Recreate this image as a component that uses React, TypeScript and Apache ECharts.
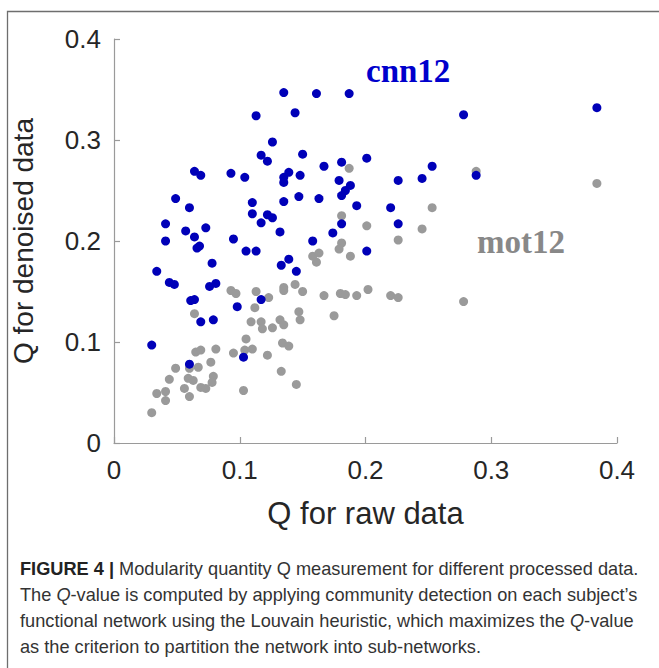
import React, { useEffect, useRef } from "react";
import * as echarts from "echarts";

// cnn12 (blue): Q for raw data / Q for denoised data
const cnnRaw = [
  0.135, 0.161, 0.187, 0.144, 0.113, 0.278, 0.384, 0.126, 0.117, 0.122,
  0.150, 0.064, 0.069, 0.093, 0.104, 0.139, 0.135, 0.135, 0.148, 0.167,
  0.181, 0.201, 0.179, 0.226, 0.245, 0.253, 0.288, 0.188, 0.184, 0.181,
  0.049, 0.060, 0.110, 0.110, 0.117, 0.122, 0.126, 0.135, 0.147, 0.163,
  0.193, 0.220, 0.181, 0.226, 0.041, 0.057, 0.064, 0.073, 0.041, 0.095,
  0.132, 0.174, 0.158, 0.066, 0.068, 0.105, 0.113, 0.201, 0.078, 0.034,
  0.133, 0.139, 0.145, 0.044, 0.048, 0.076, 0.081, 0.061, 0.064, 0.117,
  0.098, 0.069, 0.079, 0.030, 0.060, 0.103,
];
const cnnDenoised = [
  0.347, 0.346, 0.346, 0.327, 0.324, 0.325, 0.332, 0.298, 0.285, 0.279,
  0.286, 0.269, 0.265, 0.267, 0.263, 0.268, 0.263, 0.258, 0.265, 0.274,
  0.278, 0.282, 0.260, 0.260, 0.262, 0.274, 0.265, 0.255, 0.250, 0.245,
  0.242, 0.233, 0.238, 0.227, 0.218, 0.226, 0.223, 0.239, 0.244, 0.242,
  0.235, 0.233, 0.217, 0.217, 0.217, 0.210, 0.204, 0.213, 0.200, 0.202,
  0.209, 0.208, 0.200, 0.193, 0.195, 0.190, 0.190, 0.190, 0.178, 0.170,
  0.176, 0.182, 0.170, 0.159, 0.157, 0.155, 0.158, 0.141, 0.142, 0.142,
  0.135, 0.120, 0.122, 0.097, 0.078, 0.085,
];

// mot12 (gray)
const motRaw = [
  0.187, 0.288, 0.384, 0.253, 0.181, 0.201, 0.245, 0.226, 0.181, 0.179,
  0.188, 0.158, 0.163, 0.161, 0.278, 0.135, 0.135, 0.144, 0.150, 0.167,
  0.180, 0.184, 0.193, 0.202, 0.220, 0.226, 0.147, 0.148, 0.175, 0.132,
  0.135, 0.126, 0.134, 0.139, 0.122, 0.133, 0.145, 0.093, 0.097, 0.113,
  0.123, 0.112, 0.064, 0.109, 0.117, 0.118, 0.105, 0.104, 0.110, 0.095,
  0.081, 0.065, 0.069, 0.060, 0.067, 0.077, 0.049, 0.044, 0.059, 0.063,
  0.079, 0.078, 0.069, 0.073, 0.056, 0.060, 0.041, 0.034, 0.041, 0.103,
  0.030,
];
const motDenoised = [
  0.272, 0.269, 0.257, 0.233, 0.225, 0.215, 0.212, 0.201, 0.198, 0.192,
  0.185, 0.185, 0.188, 0.179, 0.140, 0.154, 0.151, 0.157, 0.150, 0.146,
  0.148, 0.147, 0.146, 0.152, 0.146, 0.144, 0.130, 0.122, 0.126, 0.122,
  0.117, 0.114, 0.099, 0.096, 0.087, 0.071, 0.058, 0.151, 0.148, 0.150,
  0.144, 0.134, 0.128, 0.120, 0.120, 0.113, 0.103, 0.092, 0.093, 0.089,
  0.093, 0.090, 0.092, 0.074, 0.075, 0.080, 0.074, 0.063, 0.064, 0.062,
  0.066, 0.060, 0.055, 0.054, 0.054, 0.046, 0.051, 0.049, 0.042, 0.052,
  0.030,
];

const xTicks = [0, 0.1, 0.2, 0.3, 0.4];
const yTicks = [0, 0.1, 0.2, 0.3, 0.4];

const captionLines = [
  "{b|FIGURE 4 |} Modularity quantity Q measurement for different processed data.",
  "The {i|Q}-value is computed by applying community detection on each subject\u2019s",
  "functional network using the Louvain heuristic, which maximizes the {i|Q}-value",
  "as the criterion to partition the network into sub-networks.",
];

const zip = (a: number[], b: number[]) => a.map((v, i) => [v, b[i]]);

export default function App() {
  const ref = useRef<HTMLDivElement>(null);
  useEffect(() => {
    if (!ref.current) return;
    const chart = echarts.init(ref.current, undefined, { renderer: "svg" });
    const sans = "'Liberation Sans', Arial, Helvetica, sans-serif";
    const serif = "'Liberation Serif', 'Times New Roman', serif";
    const capSize = 18.2;
    const axisCommon = {
      type: "value" as const,
      min: xTicks[0],
      max: xTicks[xTicks.length - 1],
      interval: 0.1,
      axisLine: { show: true, lineStyle: { color: "#9a9a9a", width: 1.2 } },
      axisTick: { show: true, inside: true, length: 6, lineStyle: { color: "#9a9a9a", width: 1.2 } },
      splitLine: { show: false },
      axisLabel: {
        fontFamily: sans,
        fontSize: 26,
        color: "#262626",
        formatter: (v: number) => (v === 0 ? "0" : String(Math.round(v * 10) / 10)),
      },
    };
    chart.setOption({
      animation: false,
      backgroundColor: "#ffffff",
      grid: { left: 114, top: 39, width: 503, height: 404 },
      xAxis: {
        ...axisCommon,
        axisLabel: { ...axisCommon.axisLabel, margin: 14 },
        name: "Q for raw data",
        nameLocation: "middle",
        nameGap: 55,
        nameTextStyle: { fontFamily: sans, fontSize: 31, color: "#262626" },
      },
      yAxis: {
        ...axisCommon,
        min: yTicks[0],
        max: yTicks[yTicks.length - 1],
        axisLabel: { ...axisCommon.axisLabel, margin: 13 },
        name: "Q for denoised data",
        nameLocation: "middle",
        nameGap: 77,
        nameTextStyle: { fontFamily: sans, fontSize: 28, color: "#262626" },
      },
      series: [
        {
          name: "mot12",
          type: "scatter",
          symbolSize: 9,
          itemStyle: { color: "#9a9a9a", opacity: 1 },
          data: zip(motRaw, motDenoised),
        },
        {
          name: "cnn12",
          type: "scatter",
          symbolSize: 9,
          itemStyle: { color: "#0000b8", opacity: 1 },
          data: zip(cnnRaw, cnnDenoised),
        },
      ],
      graphic: [
        {
          type: "rect",
          shape: { x: 7.5, y: 11.5, width: 700, height: 700 },
          style: { fill: "none", stroke: "#6e6e6e", lineWidth: 1.3 },
          silent: true,
        },
        {
          type: "text",
          x: 366,
          y: 71,
          style: {
            text: "cnn12",
            font: `bold 33px ${serif}`,
            fill: "#0000cc",
            textVerticalAlign: "middle",
          },
        },
        {
          type: "text",
          x: 477,
          y: 242,
          style: {
            text: "mot12",
            font: `bold 33px ${serif}`,
            fill: "#888888",
            textVerticalAlign: "middle",
          },
        },
        ...captionLines.map((line, i) => ({
          type: "text",
          x: 20,
          y: 569 + i * 26,
          style: {
            text: line,
            fontFamily: sans,
            fontSize: capSize,
            fill: "#333333",
            textVerticalAlign: "middle",
            rich: {
              b: { fontFamily: sans, fontSize: capSize, fontWeight: "bold", fill: "#222222" },
              i: { fontFamily: sans, fontSize: capSize, fontStyle: "italic", fill: "#333333" },
            },
          },
        })),
      ],
    });
    return () => chart.dispose();
  }, []);
  return (
    <div
      ref={ref}
      style={{ position: "fixed", left: 0, top: 0, width: 659, height: 668, background: "#fff" }}
    />
  );
}
